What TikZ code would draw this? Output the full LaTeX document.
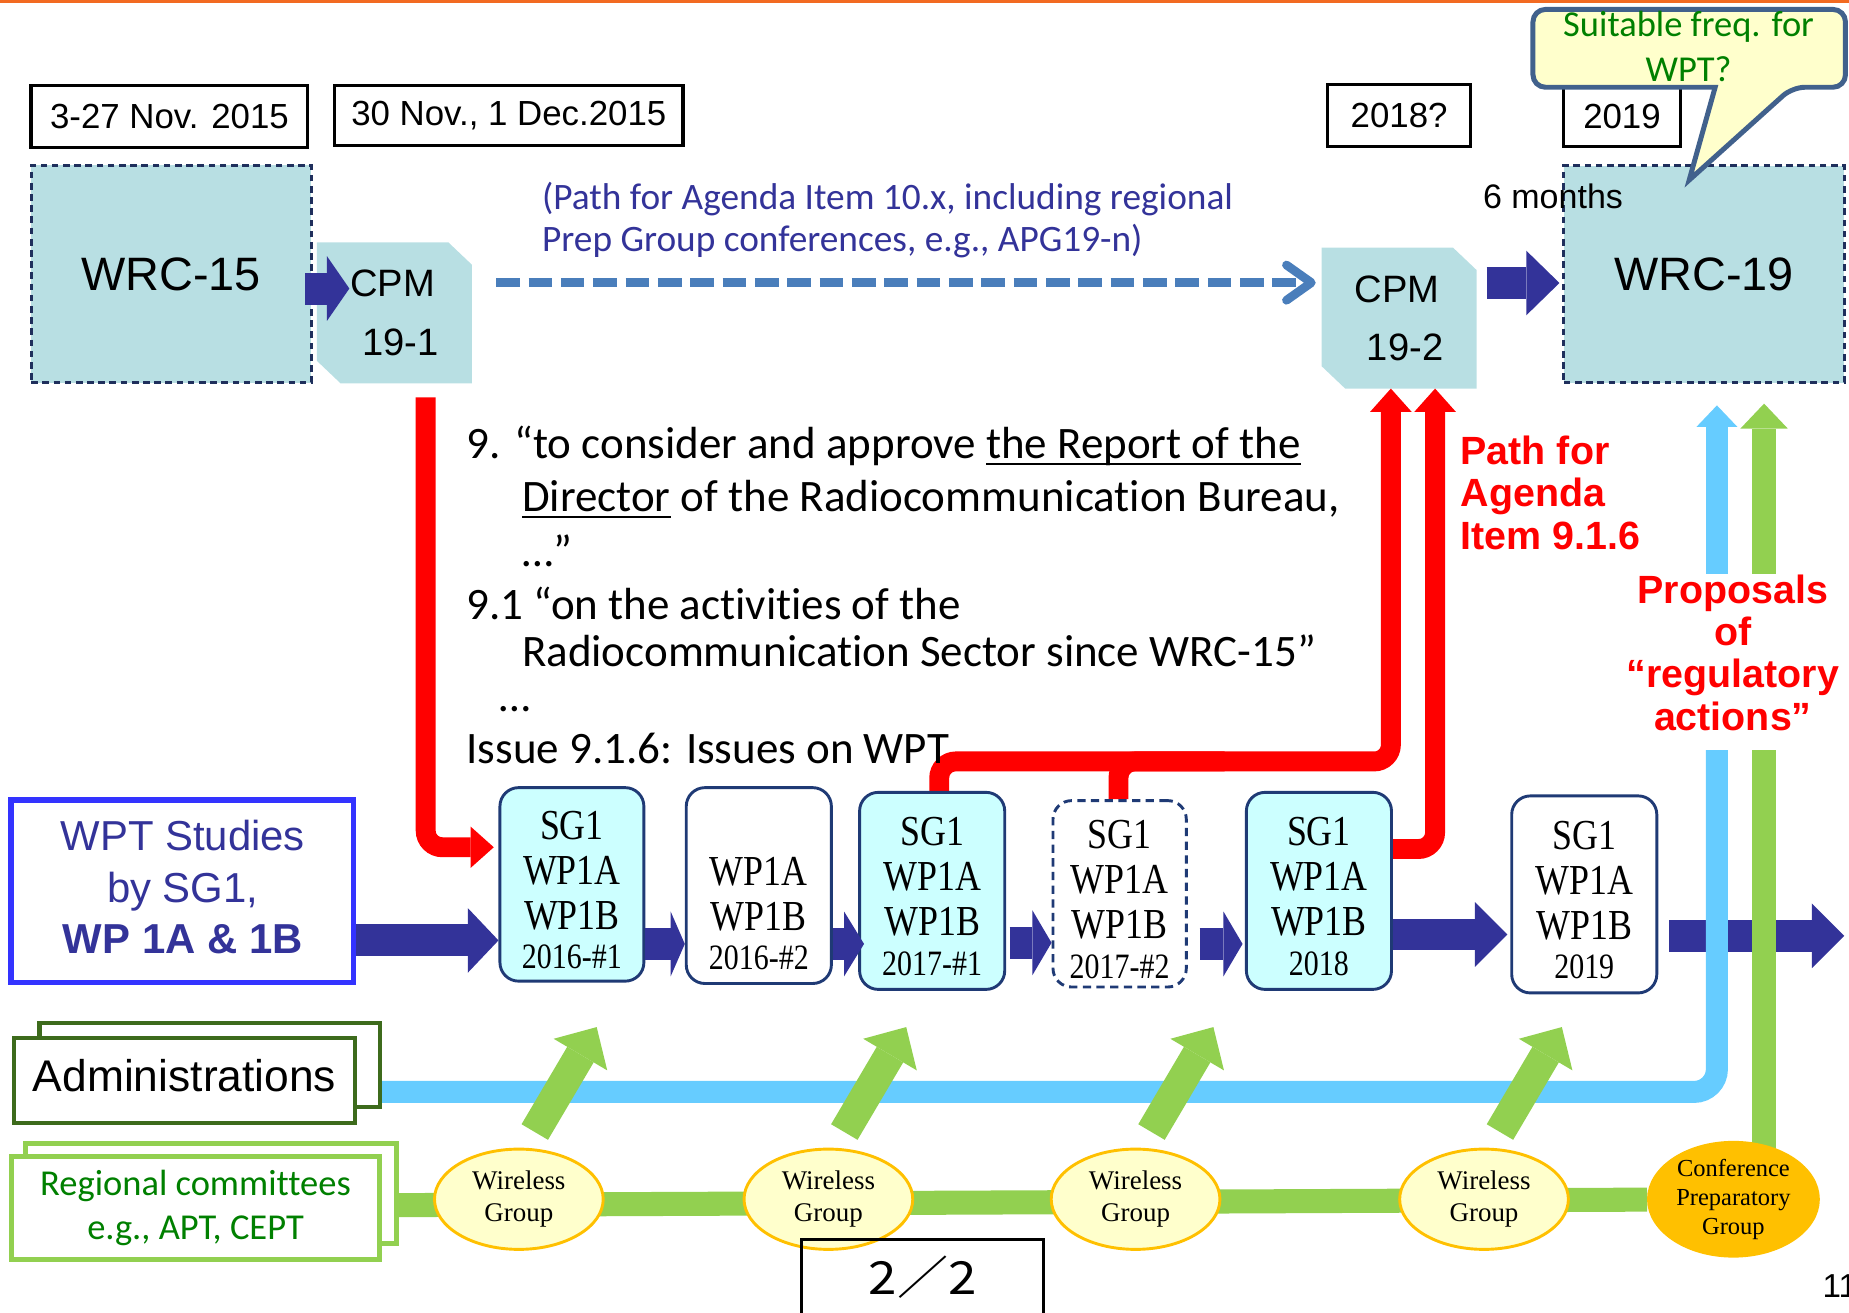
\documentclass[tikz,border=0pt]{standalone}
\usepackage{fontspec}
\usetikzlibrary{arrows.meta,shapes.geometric,backgrounds,calc}

\setmainfont{Liberation Sans}
\newfontfamily\arialf{Liberation Sans}
\newfontfamily\calf[Ligatures=NoCommon]{Carlito}
\newfontfamily\timesf[FakeStretch=0.84]{Liberation Serif}
\newfontfamily\timesw{Liberation Serif}
\newfontfamily\cjkf[FakeStretch=1.12]{Noto Sans CJK JP}

\definecolor{slideorange}{HTML}{F26A21}
\definecolor{wrcfill}{HTML}{B8DFE3}
\definecolor{wrcline}{HTML}{1F2F5C}
\definecolor{flowblue}{HTML}{333399}
\definecolor{pathblue}{HTML}{4A7EBB}
\definecolor{calloutfill}{HTML}{FFFFCC}
\definecolor{calloutline}{HTML}{41618C}
\definecolor{textgreen}{HTML}{008000}
\definecolor{sgfill}{HTML}{CCFFFF}
\definecolor{sgline}{HTML}{1F3A75}
\definecolor{wptline}{HTML}{3333FF}
\definecolor{admline}{HTML}{3D6B1C}
\definecolor{leafgreen}{HTML}{92D050}
\definecolor{propblue}{HTML}{66CCFF}
\definecolor{wgfill}{HTML}{FFFFCC}
\definecolor{wgline}{HTML}{FFC000}
\definecolor{cpgfill}{HTML}{FFC000}
\definecolor{routered}{HTML}{FF0000}

% underline sitting just under the baseline
\newsavebox{\ulbox}
\newcommand{\uln}[1]{\sbox{\ulbox}{#1}\rlap{\rule[-1.6pt]{\wd\ulbox}{0.65pt}}\usebox{\ulbox}}

% first and last line in the study group boxes
\newcommand{\sgtop}{\rule{0pt}{9.6pt}}
\newcommand{\yr}[1]{{\fontsize{8.6}{10.8}\selectfont #1}}

\tikzset{
  datebox/.style={draw, line width=0.8pt, inner sep=0pt,
    font=\arialf\fontsize{8.4}{10}\selectfont},
  wrcbox/.style={draw=wrcline, line width=0.7pt, dash pattern=on 1.6pt off 1.1pt,
    fill=wrcfill, minimum width=2.375cm, minimum height=1.84cm,
    font=\arialf\fontsize{11.3}{13}\selectfont},
  cpmtext/.style={minimum width=1.3cm, minimum height=1.18cm, inner sep=0pt,
    align=left, font=\arialf\fontsize{9.2}{14.1}\selectfont},
  sgbox/.style={draw=sgline, line width=0.7pt, rounded corners=4.5pt, fill=white,
    minimum width=1.23cm, minimum height=1.66cm, inner sep=0pt, align=center,
    font=\timesf\fontsize{10.3}{10.8}\selectfont},
  sgnew/.style={sgbox, fill=sgfill},
  wgroup/.style={ellipse, draw=wgline, line width=0.7pt, fill=wgfill,
    minimum width=1.43cm, minimum height=0.85cm, inner sep=0pt, align=center,
    font=\timesw\fontsize{6.5}{7.7}\selectfont},
  bigarrow/.style={flowblue, line width=7.7pt,
    -{Triangle[length=#1, width=15.6pt, line width=0pt]}},
  redline/.style={routered, line width=4.8pt, rounded corners=4pt},
  redroute/.style={redline, -{Triangle[length=5.6pt, width=10pt, line width=0pt]}},
  agendapath/.style={pathblue, line width=2.1pt, dash pattern=on 5.7pt off 2.1pt,
    -{Straight Barb[length=6pt, width=8.5pt, round]}},
  agenda/.style={anchor=base west, inner sep=0pt,
    font=\calf\fontsize{10.85}{12}\selectfont},
  pathnote/.style={anchor=base west, inner sep=0pt, text=flowblue,
    font=\calf\fontsize{9}{11}\selectfont},
  redlabel/.style={inner sep=0pt, text=routered,
    font=\arialf\bfseries\fontsize{9.5}{10.2}\selectfont},
  wgarrow/.style={leafgreen, line width=7.4pt,
    -{Triangle[length=7.7pt, width=15pt, line width=0pt]}},
}

\begin{document}
\begin{tikzpicture}[x=0.01cm, y=-0.01cm]
  \useasboundingbox (0,0) rectangle (1568,1113);
  \draw[slideorange, line width=0.8pt] (0,1) -- (1568,1);

  % dates
  \node[datebox, minimum width=2.345cm, minimum height=0.523cm] (d15) at (143.7,98.9) {3-27 Nov. 2015};
  \node[datebox, minimum width=2.95cm, minimum height=0.508cm] (dcpm) at (431.5,98.1) {30 Nov., 1 Dec.2015};
  \node[datebox, minimum width=1.21cm, minimum height=0.529cm] (d18) at (1186.5,98) {2018?};
  \node[datebox, minimum width=0.994cm, minimum height=0.504cm] (d19) at (1375.5,99.2) {2019};

  % conferences and CPM sessions
  \node[wrcbox] (wrc15) at (145.2,232.4) {WRC-15};
  \node[wrcbox] (wrc19) at (1445,232.5) {WRC-19};
  \node[cpmtext] (cpm1) at (334.5,265.3) {CPM\\\hspace*{2.9pt}19-1};
  \node[cpmtext] (cpm2) at (1186.5,269.8) {CPM\\\hspace*{2.9pt}19-2};

  \node[anchor=base, inner sep=0pt, font=\arialf\fontsize{8.2}{10}\selectfont] (six) at (1317,176.7) {6 months};

  % callout
  \draw[calloutline, line width=1.2pt, fill=calloutfill, rounded corners=3pt]
    (1300,74) -- (1300,8) -- (1565,8) -- (1565,74) -- (1520,74)
    [sharp corners] -- (1432.5,152.7) -- (1454.5,74) [rounded corners=3pt] -- cycle;
  \node[inner sep=0pt, align=center, text=textgreen, font=\calf\fontsize{8.8}{10.9}\selectfont] (freq) at (1432,39.3) {Suitable freq. for\\WPT?};

  \node[pathnote] (pn1) at (459,178) {(Path for Agenda Item 10.x, including regional};
  \node[pathnote] (pn2) at (459,213.5) {Prep Group conferences, e.g., APG19-n)};

  % agenda item wording
  \node[agenda] (ag1) at (395,389) {9. “to consider and approve \uln{the Report of the}};
  \node[agenda] (ag2) at (442,434) {\uln{Director} of the Radiocommunication Bureau,};
  \node[agenda] (ag3) at (442,480.6) {…”};
  \node[agenda] (ag4) at (395,525) {9.1 “on the activities of the};
  \node[agenda] (ag5) at (442,565.4) {Radiocommunication Sector since WRC-15”};
  \node[agenda] (ag6) at (423,603.6) {…};
  \node[agenda] (ag7) at (395,647.5) {Issue 9.1.6: Issues on WPT};

  \node[redlabel, anchor=north west, align=left] (pathlbl) at (1238,369) {Path for\\Agenda\\Item 9.1.6};
  \node[redlabel, anchor=north, align=center] (props) at (1469.5,486.6) {Proposals\\of\\“regulatory\\actions”};

  % study group meetings
  \node[sgnew, minimum width=1.22cm, minimum height=1.64cm] (sgA) at (485,750) {\sgtop SG1\\WP1A\\WP1B\\[-1.2pt]\yr{2016-\#1}};
  \node[sgbox] (sgB) at (643.5,751) {\sgtop\\WP1A\\WP1B\\[-1.2pt]\yr{2016-\#2}};
  \node[sgnew, minimum height=1.67cm] (sgC) at (790.5,755.5) {\sgtop SG1\\WP1A\\WP1B\\[-1.2pt]\yr{2017-\#1}};
  \node[sgbox, minimum width=1.13cm, minimum height=1.58cm, dash pattern=on 2pt off 1.3pt] (sgD) at (949.5,758) {\sgtop SG1\\WP1A\\WP1B\\[-1.2pt]\yr{2017-\#2}};
  \node[sgnew, minimum height=1.67cm] (sgE) at (1118.5,755.5) {\sgtop SG1\\WP1A\\WP1B\\[-1.2pt]\yr{2018}};
  \node[sgbox, minimum height=1.67cm] (sgF) at (1343.5,758.5) {\sgtop SG1\\WP1A\\WP1B\\[-1.2pt]\yr{2019}};
  \coordinate (flowend) at (1564,793.6);

  \node[draw=wptline, line width=1.3pt, minimum width=2.9cm, minimum height=1.545cm] (wpt) at (154.5,755.8) {};
  \node[align=center, inner sep=0pt, text=flowblue, font=\arialf\fontsize{10.1}{12.4}\selectfont] (wptlabel) at (155,752.5) {WPT Studies\\by SG1,\\\textbf{WP 1A \& 1B}};

  \node[draw=admline, line width=1pt, fill=white, minimum width=2.884cm, minimum height=0.713cm] (adminbk) at (177.8,903) {};
  \node[draw=admline, line width=1pt, fill=white, minimum width=2.89cm, minimum height=0.714cm, text depth=2.4pt, font=\arialf\fontsize{10.7}{12}\selectfont] (admin) at (156.5,916.3) {Administrations};

  \node[draw=leafgreen, line width=1.2pt, fill=white, minimum width=3.14cm, minimum height=0.85cm] (regbk) at (179,1012) {};
  \node[draw=leafgreen, line width=1.2pt, fill=white, minimum width=3.125cm, minimum height=0.85cm, align=center, text=textgreen, font=\calf\fontsize{8.8}{10.5}\selectfont] (reg) at (165.8,1024.5) {Regional committees\\e.g., APT, CEPT};

  \foreach \x/\n in {440/1,702.5/2,963/3,1258.5/4}
    \node[wgroup] (wg\n) at (\x,1017) {Wireless\\Group};
  \node[wgroup, fill=cpgfill, draw=cpgfill, minimum width=1.44cm, minimum height=0.86cm, font=\timesw\fontsize{5.9}{7}\selectfont] (cpg) at (1470,1017) {Conference\\Preparatory\\Group};

  \node[draw, line width=0.7pt, minimum width=2.05cm, minimum height=0.9cm] (pagebox) at (782.5,1096) {};
  \node[anchor=base, inner sep=0pt, font=\cjkf\fontsize{11}{13}\selectfont] (pagenum) at (782.5,1098) {2／2};
  \node[anchor=base west, inner sep=0pt, font=\arialf\fontsize{8}{10}\selectfont] (slideno) at (1545,1100) {11};

  % flow arrows
  \draw[bigarrow=5.4pt, shorten <=-0.063cm, shorten >=-0.275cm] (wrc15.east |- 0,244.7) -- (cpm1.west |- 0,244.7);
  \draw[bigarrow=8pt, shorten <=0.085cm, shorten >=0.025cm] (cpm2.east |- 0,240) -- (wrc19.west |- 0,240);
  \draw[bigarrow=7.4pt] (wpt.east |- 0,797.5) -- (sgA.west |- 0,797.5);
  \draw[bigarrow=3.4pt] (sgA.east |- 0,800.5) -- (sgB.west |- 0,800.5);
  \draw[bigarrow=4.8pt, shorten >=-0.05cm] (sgB.east |- 0,800.5) -- (sgC.west |- 0,800.5);
  \draw[bigarrow=4.6pt, shorten <=0.03cm] (sgC.east |- 0,799.5) -- (sgD.west |- 0,799.5);
  \draw[bigarrow=4.6pt, shorten <=0.1cm, shorten >=0.02cm] (sgD.east |- 0,800.5) -- (sgE.west |- 0,800.5);
  \draw[bigarrow=7.8pt, shorten >=0.025cm] (sgE.east |- 0,792.5) -- (sgF.west |- 0,792.5);

  \foreach \g in {1,...,4}
    \draw[wgarrow] ($(wg\g.center)+(13.5,-57)$) -- ++(52.5,-89);

  \begin{scope}[on background layer]
    \foreach \c in {cpm1,cpm2}
      \fill[wrcfill] (\c.north west) -- ($(\c.north east)+(-20,0)$) -- ($(\c.north east)+(0,19)$)
        -- (\c.south east) -- ($(\c.south west)+(20,0)$) -- ($(\c.south west)+(0,-19)$) -- cycle;

    \draw[agendapath, shorten <=0.205cm, shorten >=0.05cm] (cpm1.east |- 0,239.7) -- (cpm2.west |- 0,239.7);

    % path for agenda item 9.1.6
    \draw[redroute, shorten <=0.12cm, shorten >=0.04cm] (cpm1.south -| 361,0) |- (sgA.west |- 0,718.5);
    \draw[redroute] (sgC.north -| 796.5,0) -- ++(0,-25) -| (cpm2.south -| 1179.5,0);
    \draw[redline] (sgD.north -| 948.5,0) |- ++(90,-32);
    \draw[redroute] (sgE.east |- 0,720) -| (cpm2.south -| 1217,0);

    \draw[bigarrow=7.8pt, shorten <=0.095cm] (sgF.east |- flowend) -- (flowend);

    % proposals towards WRC-19
    \draw[propblue, line width=5.3pt, rounded corners=5.5pt, shorten >=0.16cm] (adminbk.east |- 0,926) -| (props.south -| 1456,0);
    \draw[propblue, line width=5.2pt, -{Triangle[length=5.2pt, width=9.9pt, line width=0pt]}, shorten >=0.18cm] (props.north -| 1456,0) -- (wrc19.south -| 1456,0);
    \draw[leafgreen, line width=5.8pt] (regbk.east |- 0,1022) -- (cpg);
    \draw[leafgreen, line width=5.8pt, shorten >=0.16cm] (cpg.center -| 1496,0) -- (props.south -| 1496,0);
    \draw[leafgreen, line width=5.8pt, -{Triangle[length=6pt, width=11.4pt, line width=0pt]}, shorten >=0.165cm] (props.north -| 1496,0) -- (wrc19.south -| 1496,0);
  \end{scope}
\end{tikzpicture}
\end{document}
